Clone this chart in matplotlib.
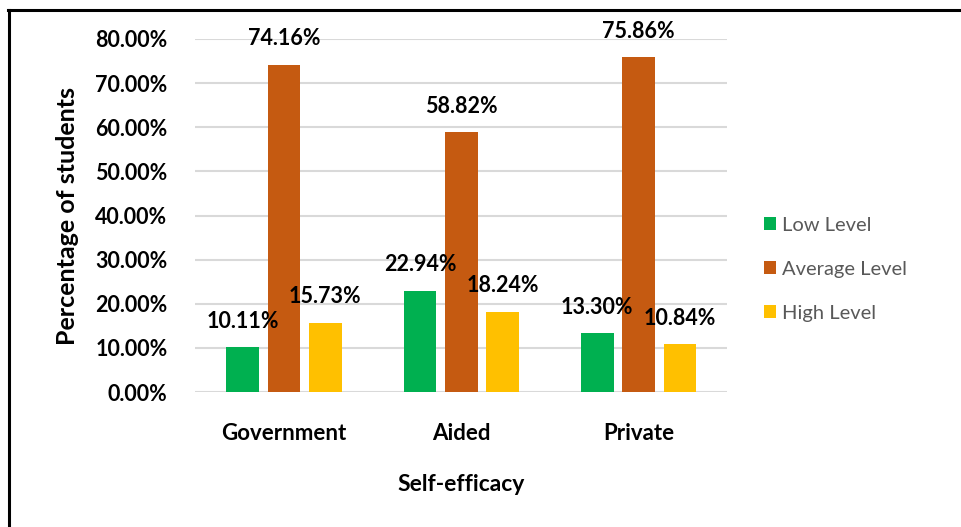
import numpy as np
import matplotlib.pyplot as plt
from matplotlib.lines import Line2D

plt.rcParams['font.family'] = ['Lato', 'DejaVu Sans']

schools = ['Government', 'Aided', 'Private']
levels = ['Low Level', 'Average Level', 'High Level']
low = [10.11, 22.94, 13.30]
average = [74.16, 58.82, 75.86]
high = [15.73, 18.24, 10.84]
colors = ['#00b050', '#c55a11', '#ffc000']
yticks = [0, 10, 20, 30, 40, 50, 60, 70, 80]

fig = plt.figure(figsize=(9.62, 5.27), dpi=100)
ax = fig.add_axes([0.203, 0.256, 0.553, 0.67])

x = np.arange(len(schools))
step = 0.233
width = 0.185
for i, (name, vals) in enumerate(zip(levels, [low, average, high])):
    pos = x + (i - 1) * step
    bars = ax.bar(pos, vals, width, color=colors[i], label=name, zorder=3)
    for b, v in zip(bars, vals):
        ax.annotate(f'{v:.2f}%', (b.get_x() + b.get_width() / 2, v),
                    xytext=(0, 26), textcoords='offset pixels',
                    ha='center', va='center', fontsize=15.5, fontweight='bold',
                    annotation_clip=False, zorder=4)

ax.set_xlim(-0.5, 2.5)
ax.set_ylim(0, 80)
ax.set_yticks(yticks)
ax.set_yticklabels([f'{t:.2f}%' for t in yticks], fontsize=15.5, fontweight='bold')
ax.set_xticks(x)
ax.set_xticklabels(schools, fontsize=16, fontweight='bold')
ax.tick_params(axis='both', length=0)
ax.tick_params(axis='y', pad=20)
ax.tick_params(axis='x', pad=22)
ax.grid(axis='y', color='#d9d9d9', linewidth=1.5, zorder=0)
for s in ax.spines.values():
    s.set_visible(False)

ax.set_ylabel('Percentage of students', fontsize=18, fontweight='bold', labelpad=12)
ax.set_xlabel('Self-efficacy', fontsize=16.5, fontweight='bold', labelpad=22)

ax.legend(loc='center left', bbox_to_anchor=(1.05, 0.348), frameon=False,
          borderpad=0, fontsize=14.5, labelcolor='#595959',
          handlelength=0.6, handleheight=0.6, handletextpad=0.3,
          labelspacing=1.35)

# left and top border lines
fig.add_artist(Line2D([9 / 962, 9 / 962], [0, 1 - 10 / 527], color='k', linewidth=2.2))
fig.add_artist(Line2D([8 / 962, 1], [1 - 10 / 527, 1 - 10 / 527], color='k', linewidth=2.2))

fig.savefig('out.png', dpi=100)
